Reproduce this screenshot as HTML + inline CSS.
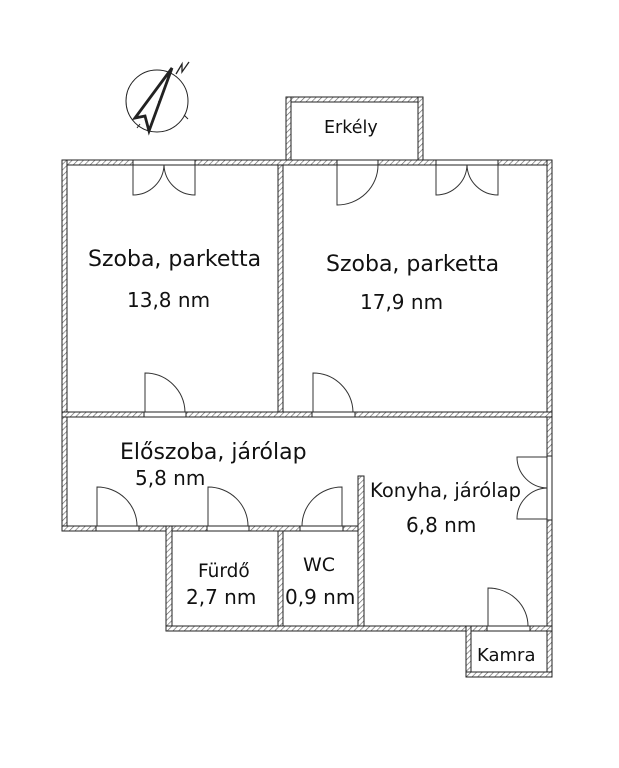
<!DOCTYPE html>
<html><head><meta charset="utf-8"><style>
html,body{margin:0;padding:0;background:#fff;width:619px;height:768px;overflow:hidden}
svg text{font-family:"DejaVu Sans","Liberation Sans",sans-serif;fill:#111}
</style></head><body>
<svg width="619" height="768" viewBox="0 0 619 768" xmlns="http://www.w3.org/2000/svg">
<defs>
<pattern id="h" width="4" height="4" patternUnits="userSpaceOnUse" patternTransform="rotate(45)">
<rect width="4" height="4" fill="#fff"/><line x1="0" y1="0" x2="0" y2="4" stroke="#666" stroke-width="1.3"/>
</pattern>
</defs>
<g fill="url(#h)" stroke="#222" stroke-width="1">
<rect x="286" y="97" width="137" height="5"/>
<rect x="286" y="97" width="5" height="66"/>
<rect x="418" y="97" width="5" height="66"/>
<rect x="62" y="160" width="490" height="5"/>
<rect x="62" y="160" width="5" height="371"/>
<rect x="547" y="160" width="5" height="517"/>
<rect x="278" y="165" width="5" height="248"/>
<rect x="62" y="412" width="490" height="5"/>
<rect x="62" y="526" width="302" height="5"/>
<rect x="358" y="476" width="6" height="155"/>
<rect x="166" y="526" width="6" height="105"/>
<rect x="278" y="531" width="5" height="95"/>
<rect x="166" y="626" width="386" height="5"/>
<rect x="466" y="626" width="5" height="51"/>
<rect x="466" y="672" width="86" height="5"/>
</g>
<g fill="#fff" stroke="#222" stroke-width="1">
<rect x="133" y="160" width="62" height="5"/>
<rect x="337" y="160" width="41" height="5"/>
<rect x="436" y="160" width="62" height="5"/>
<rect x="144" y="412" width="42" height="5"/>
<rect x="312" y="412" width="43" height="5"/>
<rect x="96" y="526" width="43" height="5"/>
<rect x="207" y="526" width="42" height="5"/>
<rect x="300" y="526" width="43" height="5"/>
<rect x="547" y="456" width="5" height="64"/>
<rect x="487" y="626" width="43" height="5"/>
</g>
<g fill="none" stroke="#333" stroke-width="1">
<path d="M133 165 V195 A31 31 0 0 0 164 165"/>
<path d="M195 165 V195 A31 31 0 0 1 164 165"/>
<path d="M337 165 V205 A41 40 0 0 0 378 165"/>
<path d="M436 165 V195 A31 31 0 0 0 467 165"/>
<path d="M498 165 V195 A31 31 0 0 1 467 165"/>
<path d="M145 412 V373 A40 40 0 0 1 185 412"/>
<path d="M313 412 V373 A40 40 0 0 1 353 412"/>
<path d="M97 526 V487 A40 39 0 0 1 137 526"/>
<path d="M208 526 V487 A40 39 0 0 1 248 526"/>
<path d="M342 526 V487 A40 39 0 0 0 302 526"/>
<path d="M547 457 H517 A31 31 0 0 0 547 488"/>
<path d="M547 519 H517 A31 31 0 0 1 547 488"/>
<path d="M488 626 V588 A40 38 0 0 1 528 626"/>
</g>
<g fill="none" stroke="#222">
<circle cx="157" cy="101" r="31" stroke-width="1"/>
<path d="M135 118 L172 68 L149 131 L145 116 Z" stroke-width="2.8" stroke-linejoin="miter"/>
<path d="M176 74 L182 64 L182 72 L189 62" stroke-width="1.3"/>
<line x1="137" y1="128" x2="140" y2="124"/>
<line x1="184" y1="115" x2="188" y2="119"/>
</g>
<circle cx="159" cy="102" r="1" fill="#222"/>
<text x="324" y="133" font-size="17.5">Erkély</text>
<text x="88" y="266" font-size="22">Szoba, parketta</text>
<text x="127" y="307" font-size="20">13,8 nm</text>
<text x="326" y="271" font-size="22">Szoba, parketta</text>
<text x="360" y="309" font-size="20">17,9 nm</text>
<text x="120" y="459" font-size="22">Előszoba, járólap</text>
<text x="135" y="485" font-size="20">5,8 nm</text>
<text x="370" y="497" font-size="19.5">Konyha, járólap</text>
<text x="406" y="532" font-size="20">6,8 nm</text>
<text x="198" y="577" font-size="18.5">Fürdő</text>
<text x="186" y="604" font-size="20">2,7 nm</text>
<text x="303" y="571" font-size="19">WC</text>
<text x="285" y="604" font-size="20">0,9 nm</text>
<text x="477" y="661" font-size="18">Kamra</text>
</svg>
</body></html>
